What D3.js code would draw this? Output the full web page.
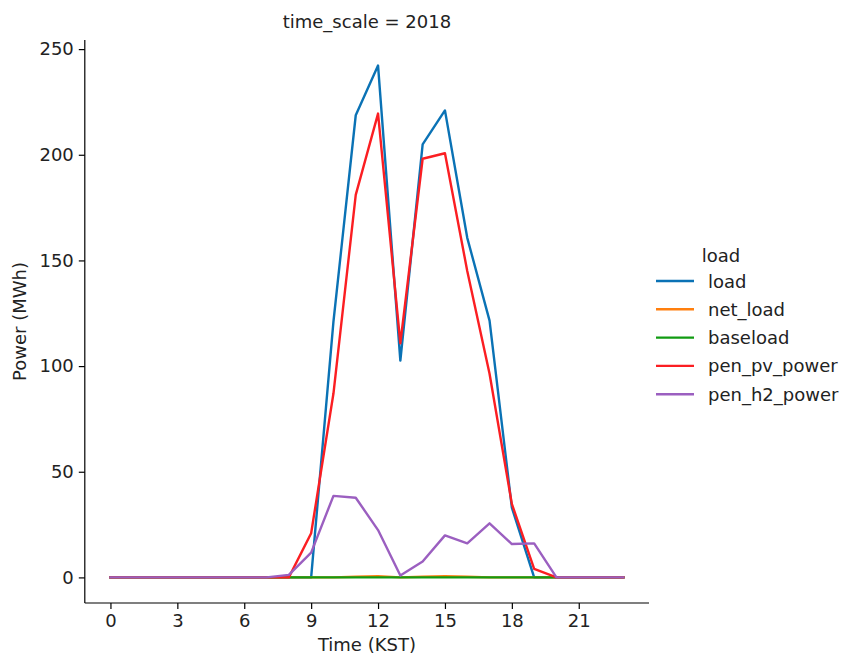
<!DOCTYPE html>
<html>
<head>
<meta charset="utf-8">
<script src="https://cdn.jsdelivr.net/npm/d3@7"></script>
<style>
  html, body { margin: 0; padding: 0; background: #fff; }
  svg { display: block; font-family: "DejaVu Sans", sans-serif; }
</style>
</head>
<body>
<svg id="chart" width="842" height="656"></svg>
<script>
// Hourly profile, time_scale = 2018
const hours = d3.range(0, 24);
const load        = [0,0,0,0,0,0,0,0,0,0,121,218.7,242.2,102.6,204.9,221,160.7,121.5,33,0,0,0,0,0];
const netLoad     = [0,0,0,0,0,0,0,0,0,0,0,0.3,0.6,0,0.3,0.6,0.3,0,0,0,0,0,0,0];
const baseload    = [0,0,0,0,0,0,0,0,0,0,0,0,0,0,0,0,0,0,0,0,0,0,0,0];
const penPvPower  = [0,0,0,0,0,0,0,0,0,20.9,87,181,219.5,110.8,198.1,200.7,145,96.4,34.8,4,0,0,0,0];
const penH2Power  = [0,0,0,0,0,0,0,0,1.2,11.7,38.6,37.7,22.4,0.9,7.5,19.9,16.1,25.6,15.8,16.1,0,0,0,0];

const seriesNames  = ["load", "net_load", "baseload", "pen_pv_power", "pen_h2_power"];
const seriesValues = [load, netLoad, baseload, penPvPower, penH2Power];
const seriesColors = ["#0a72b5", "#ff7f0e", "#119b12", "#fb1e22", "#9b5fc0"];

const xTicks = [0, 3, 6, 9, 12, 15, 18, 21];
const yTicks = [0, 50, 100, 150, 200, 250];

const svg = d3.select("#chart");
const plot = { left: 84.8, right: 649, top: 40, bottom: 603 };

// matplotlib-style 5% margins around the data range
const xMin = 0, xMax = 23;
const yMax = d3.max(seriesValues.flat()), yMin = 0;
const xPad = (xMax - xMin) * 0.05, yPad = (yMax - yMin) * 0.05;

const x = d3.scaleLinear().domain([xMin - xPad, xMax + xPad]).range([plot.left, plot.right]);
const y = d3.scaleLinear().domain([yMin - yPad, yMax + yPad]).range([plot.bottom, plot.top]);

const fontSize = 18;

// Axes
const xAxis = svg.append("g")
  .attr("transform", `translate(0,${plot.bottom})`)
  .call(d3.axisBottom(x).tickValues(xTicks).tickSize(6).tickPadding(5).tickSizeOuter(0));
const yAxis = svg.append("g")
  .attr("transform", `translate(${plot.left},0)`)
  .call(d3.axisLeft(y).tickValues(yTicks).tickSize(6).tickPadding(5).tickSizeOuter(0));

[xAxis, yAxis].forEach(g => {
  g.select(".domain").attr("stroke", "#000").attr("stroke-width", 1.2);
  g.selectAll(".tick line").attr("stroke", "#000").attr("stroke-width", 1.2);
  g.selectAll(".tick text").attr("fill", "#222").style("font-size", fontSize + "px")
    .style("font-family", "'DejaVu Sans', sans-serif");
});
// spine extents span the padded range
xAxis.select(".domain").attr("d", `M${plot.left},0H${plot.right}`);
yAxis.select(".domain").attr("d", `M0,${plot.bottom}V${plot.top}`);

// Lines
const line = d3.line().x((d, i) => x(hours[i])).y(d => y(d));
const lines = svg.append("g");
seriesValues.forEach((vals, k) => {
  lines.append("path")
    .datum(vals)
    .attr("d", line)
    .attr("fill", "none")
    .attr("stroke", seriesColors[k])
    .attr("stroke-width", 2.4)
    .attr("stroke-linejoin", "round")
    .attr("stroke-linecap", "square");
});

// Title
svg.append("text")
  .attr("x", (plot.left + plot.right) / 2).attr("y", 28)
  .attr("text-anchor", "middle")
  .style("font-size", fontSize + "px").attr("fill", "#222")
  .text("time_scale = 2018");

// Axis labels
svg.append("text")
  .attr("x", (plot.left + plot.right) / 2).attr("y", 651)
  .attr("text-anchor", "middle")
  .style("font-size", fontSize + "px").attr("fill", "#222")
  .text("Time (KST)");
svg.append("text")
  .attr("transform", `translate(26,${(plot.top + plot.bottom) / 2}) rotate(-90)`)
  .attr("text-anchor", "middle")
  .style("font-size", fontSize + "px").attr("fill", "#222")
  .text("Power (MWh)");

// Legend
const legend = svg.append("g").attr("transform", "translate(656,0)");
legend.append("text")
  .attr("x", 65).attr("y", 262)
  .attr("text-anchor", "middle")
  .style("font-size", fontSize + "px").attr("fill", "#222")
  .text("load");
seriesNames.forEach((name, k) => {
  const cy = 281 + k * 28.3;
  legend.append("line")
    .attr("x1", 0).attr("x2", 38).attr("y1", cy).attr("y2", cy)
    .attr("stroke", seriesColors[k]).attr("stroke-width", 2.4);
  legend.append("text")
    .attr("x", 52).attr("y", cy + 6.5)
    .style("font-size", fontSize + "px").attr("fill", "#222")
    .text(name);
});
</script>
</body>
</html>
